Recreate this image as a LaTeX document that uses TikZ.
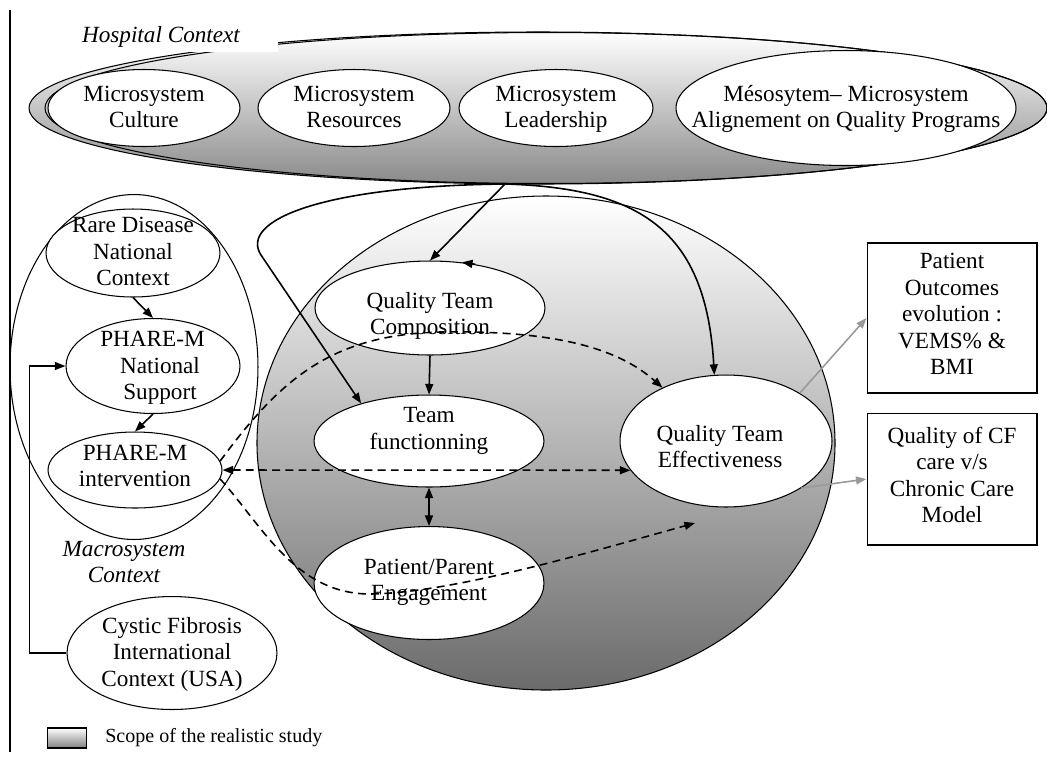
\documentclass[tikz,border=0pt]{standalone}
\usepackage{fontspec}
\setmainfont{Liberation Serif}
\usetikzlibrary{shapes.geometric,arrows.meta}
\tikzset{
  oval/.style={draw,ellipse,fill=white,inner sep=0pt,line width=0.6pt},
  txt/.style={align=center,inner sep=0pt,yshift=-1.5pt,font=\fontsize{13.2}{15.1}\selectfont,
    execute at begin node=\strut,execute at end node=\strut},
  ctx/.style={txt,font=\fontsize{13.2}{15.1}\selectfont\itshape},
  outbox/.style={draw,fill=white,line width=0.6pt,align=center,minimum width=3.4cm,
    inner sep=0pt,font=\fontsize{13.2}{15.1}\selectfont,
    execute at begin node=\strut,execute at end node=\strut},
  sarrow/.style={-{Triangle[length=6pt,width=4.5pt]},line width=0.9pt},
  darrow/.style={-{Triangle[length=6pt,width=4.5pt]},line width=0.9pt,dash pattern=on 4.5pt off 3pt},
  garrow/.style={-{Triangle[length=6pt,width=4.5pt]},line width=0.9pt,black!40}
}
\begin{document}
\begin{tikzpicture}[x=0.02cm,y=-0.02cm]
\useasboundingbox (0,0) rectangle (1047,762);
\draw[line width=0.7pt] (10,10) -- (10,752);

% hospital context
\path[draw,line width=0.6pt,top color=white,middle color=black!12,bottom color=black!46] (538,108) ellipse (509 and 76);
\draw[line width=0.6pt] (546,108) ellipse (501 and 75.5);
\fill[white] (60,12) rectangle (278,52);
\node[ctx] (hosp) at (161,35) {Hospital Context};
\coordinate (hb) at (505,184);

\node[oval,minimum width=3.84cm,minimum height=1.54cm] (cult) at (144,108) {};
\node[txt] (cult-t) at (cult) {Microsystem\\Culture};
\node[oval,minimum width=3.84cm,minimum height=1.54cm] (res) at (354,108) {};
\node[txt] (res-t) at (res) {Microsystem\\Resources};
\node[oval,minimum width=3.88cm,minimum height=1.54cm] (lead) at (556,108) {};
\node[txt] (lead-t) at (lead) {Microsystem\\Leadership};
\node[oval,minimum width=6.8cm,minimum height=2.3cm] (meso) at (846,108) {};
\node[txt] (meso-t) at (meso) {Mésosytem– Microsystem\\Alignement on Quality Programs};

% scope of the study
\path[draw,line width=0.6pt,top color=white,middle color=black!15,bottom color=black!58] (546,443) ellipse (289 and 247);

% macrosystem context
\node[draw,ellipse,minimum width=4.96cm,minimum height=6.9cm,inner sep=0pt,line width=0.6pt] (macro) at (134,367) {};
\node[oval,minimum width=3.48cm,minimum height=1.76cm] (rare) at (133,253) {};
\node[txt] (rare-t) at (rare) {Rare Disease\\National\\Context};
\node[oval,minimum width=3.48cm,minimum height=1.9cm] (nat) at (153,366) {};
\node[txt] (nat-t) at (160,367) {PHARE-M\hspace*{0.3cm}\\National\\Support};
\node[oval,minimum width=3.48cm,minimum height=1.52cm] (int) at (135,470) {};
\node[txt] (int-t) at (135,467) {PHARE-M\\intervention};
\node[ctx] (macro-t) at (124,563) {Macrosystem\\Context};
\node[oval,minimum width=4.2cm,minimum height=2.26cm] (cf) at (172,653) {};
\node[txt] (cf-t) at (cf) {Cystic Fibrosis\\International\\Context (USA)};

% team
\node[oval,minimum width=4.6cm,minimum height=1.88cm] (qtc) at (430,308) {};
\node[txt] (qtc-t) at (430,315) {Quality Team\\Composition};
\node[oval,minimum width=4.6cm,minimum height=1.84cm] (tf) at (429,441) {};
\node[txt] (tf-t) at (429,430) {Team\\functionning};
\node[oval,minimum width=4.6cm,minimum height=2.26cm] (ppe) at (429,583) {};
\node[txt] (ppe-t) at (429,581) {Patient/Parent\\Engagement};
\node[oval,minimum width=4.24cm,minimum height=2.64cm] (qte) at (726,441) {};
\node[txt] (qte-t) at (720,448) {Quality Team\\Effectiveness};

% outcomes
\node[outbox,minimum height=3cm] (po) at (952,318) {Patient\\Outcomes\\evolution :\\VEMS\% \&\\BMI};
\node[outbox,minimum height=2.64cm] (cc) at (952,479) {Quality of CF\\care v/s\\Chronic Care\\Model};

% arrows
\draw[sarrow] (rare.south) -- (nat.north);
\draw[sarrow] (nat.south) -- (int.north);
\draw[sarrow,line width=0.7pt] (cf.west) -- ++(-37,0) |- (nat.west);
\draw[sarrow] (hb) -- (qtc.north);
\draw[sarrow] (hb) .. controls (320,186) and (239,221) .. (261,255) -- (tf.151);
\draw[sarrow] (hb) .. controls (640,188) and (706,230) .. (qte.100);
\draw[sarrow] (qtc.44) -- (qtc.55);
\draw[sarrow] (qtc.south) -- (tf.north);
\draw[sarrow,{Triangle[length=6pt,width=4.5pt]}-{Triangle[length=6pt,width=4.5pt]}] (tf.south) -- (ppe.north);
\draw[darrow] (int.6) .. controls (280,380) and (330,335) .. (440,332) .. controls (560,330) and (620,350) .. (qte.140);
\draw[darrow,{Triangle[length=6pt,width=4.5pt]}-{Triangle[length=6pt,width=4.5pt]}] (int.east) -- (qte.197);
\coordinate (pe-end) at (695,523);
\draw[darrow] (int.-6) .. controls (262,525) and (295,594) .. (370,594) .. controls (450,593) and (580,555) .. (pe-end);
\draw[garrow] (qte.33) -- (po.west);
\draw[garrow] (qte.-32) -- (cc.west);

% legend
\node[draw,line width=0.6pt,top color=white,bottom color=black!50,minimum width=0.78cm,minimum height=0.4cm,inner sep=0pt] (key) at (67,738) {};
\node[anchor=west,inner sep=0pt,font=\fontsize{11.4}{13}\selectfont] (key-t) at (105,738) {Scope of the realistic study};
\end{tikzpicture}
\end{document}
